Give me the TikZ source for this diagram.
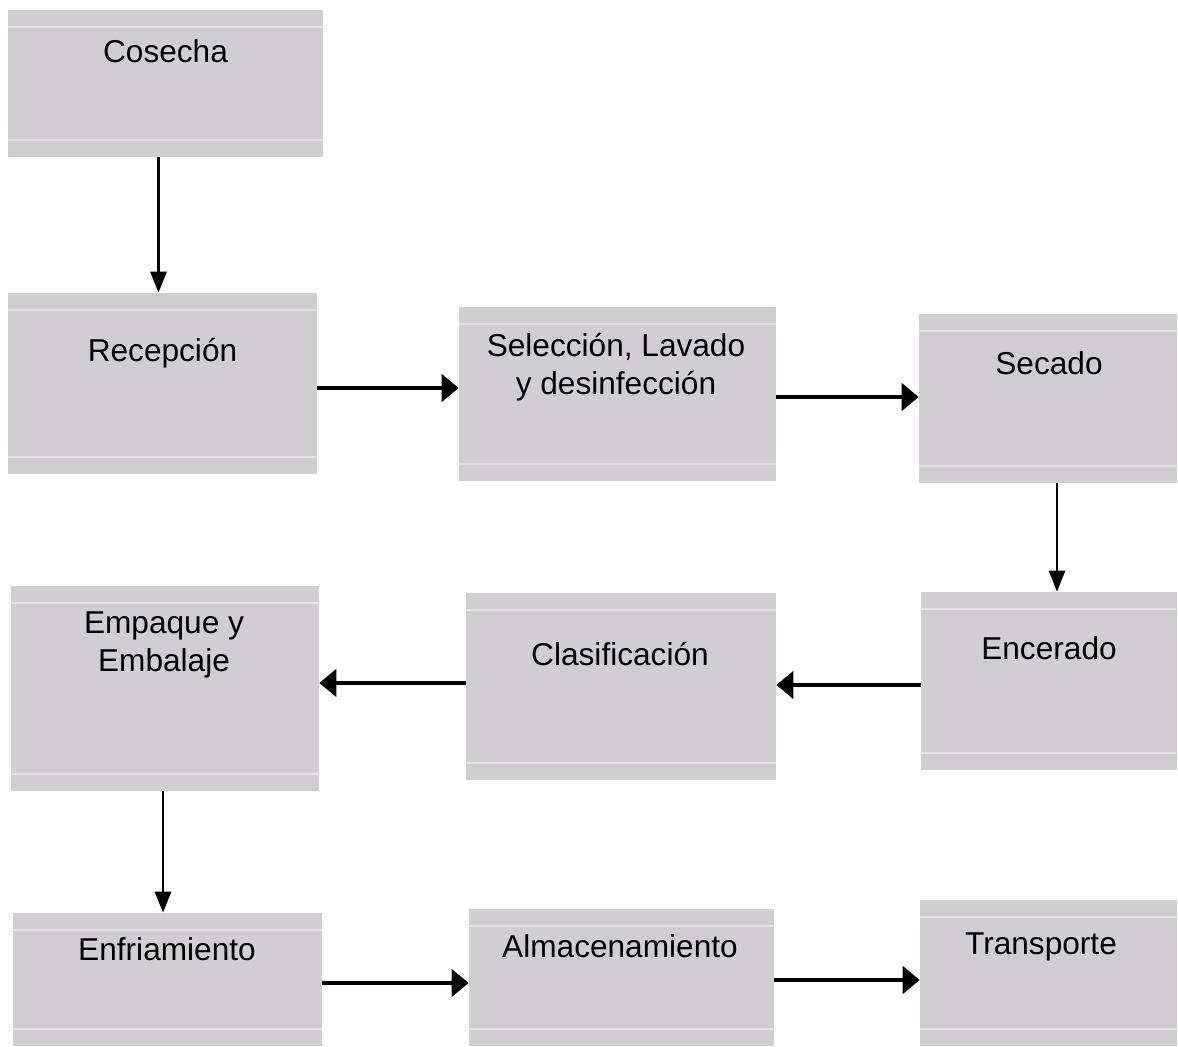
\documentclass[tikz,border=0pt]{standalone}
\usepackage{fontspec}
\setmainfont{Liberation Sans}
\usetikzlibrary{arrows.meta, calc, positioning}
\definecolor{BoxGray}{HTML}{D0CED0}
\definecolor{LineGray}{HTML}{E4E3E4}

\begin{document}
\begin{tikzpicture}[x=0.02cm, y=-0.02cm,
  box/.style={fill=BoxGray, inner sep=0pt, path picture={
    \draw[LineGray, line width=0.7pt]
      ([yshift=-0.34cm]path picture bounding box.north west) -- ([yshift=-0.34cm]path picture bounding box.north east)
      ([yshift=0.34cm]path picture bounding box.south west) -- ([yshift=0.34cm]path picture bounding box.south east);}},
  txt/.style={anchor=base, align=center, font=\fontsize{18}{21.6}\selectfont},
  vline/.style={line width=1.6pt, -{Triangle[length=0.42cm, width=0.32cm]}},
  hline/.style={line width=2.6pt, -{Triangle[length=0.34cm, width=0.54cm]}}]
  \useasboundingbox (0,0) rectangle (1178,1046);

  \node[box, minimum width=6.30cm, minimum height=2.94cm] (cos) at (165.5,83.5) {};
  \node[box, minimum width=6.18cm, minimum height=3.62cm] (rec) at (162.5,383.5) {};
  \node[box, minimum width=6.34cm, minimum height=3.48cm] (sel) at (617.5,394) {};
  \node[box, minimum width=5.16cm, minimum height=3.38cm] (sec) at (1048,398.5) {};
  \node[box, minimum width=5.12cm, minimum height=3.56cm] (enc) at (1049,681) {};
  \node[box, minimum width=6.20cm, minimum height=3.74cm] (cla) at (621,686.5) {};
  \node[box, minimum width=6.16cm, minimum height=4.10cm] (emp) at (165,688.5) {};
  \node[box, minimum width=6.18cm, minimum height=2.66cm] (enf) at (167.5,979.5) {};
  \node[box, minimum width=6.10cm, minimum height=2.74cm] (alm) at (621.5,977.5) {};
  \node[box, minimum width=5.14cm, minimum height=2.92cm] (tra) at (1048.5,973) {};

  \node[txt] (cosT) at (165.5,62) {Cosecha};
  \node[txt] (recT) at (162.5,361) {Recepción};
  \node[txt] (selT) at (616,394) {Selección, Lavado\\y desinfección};
  \node[txt] (secT) at (1049,374) {Secado};
  \node[txt] (encT) at (1049,659) {Encerado};
  \node[txt] (claT) at (620,665) {Clasificación};
  \node[txt] (empT) at (164,671) {Empaque y\\Embalaje};
  \node[txt] (enfT) at (167,960) {Enfriamiento};
  \node[txt] (almT) at (620,957) {Almacenamiento};
  \node[txt] (traT) at (1041,954) {Transporte};

  \draw[vline] ([xshift=-0.14cm]cos.south) -- ([xshift=-0.14cm]cos.south |- rec.north);
  \draw[hline] ([yshift=-0.09cm]rec.east) -- ([yshift=-0.09cm]rec.east -| sel.west);
  \draw[hline] ([yshift=-0.06cm]sel.east) -- ([yshift=-0.06cm]sel.east -| sec.west);
  \draw[vline] ([xshift=0.18cm]sec.south) -- ([xshift=0.18cm]sec.south |- enc.north);
  \draw[hline] ([yshift=-0.08cm]enc.west) -- ([yshift=-0.08cm]enc.west -| cla.east);
  \draw[hline] ([yshift=0.07cm]cla.west) -- ([yshift=0.07cm]cla.west -| emp.east);
  \draw[vline] ([xshift=-0.04cm]emp.south) -- ([xshift=-0.04cm]emp.south |- enf.north);
  \draw[hline] ([yshift=-0.07cm]enf.east) -- ([yshift=-0.07cm]enf.east -| alm.west);
  \draw[hline] ([yshift=-0.05cm]alm.east) -- ([yshift=-0.05cm]alm.east -| tra.west);
\end{tikzpicture}
\end{document}
